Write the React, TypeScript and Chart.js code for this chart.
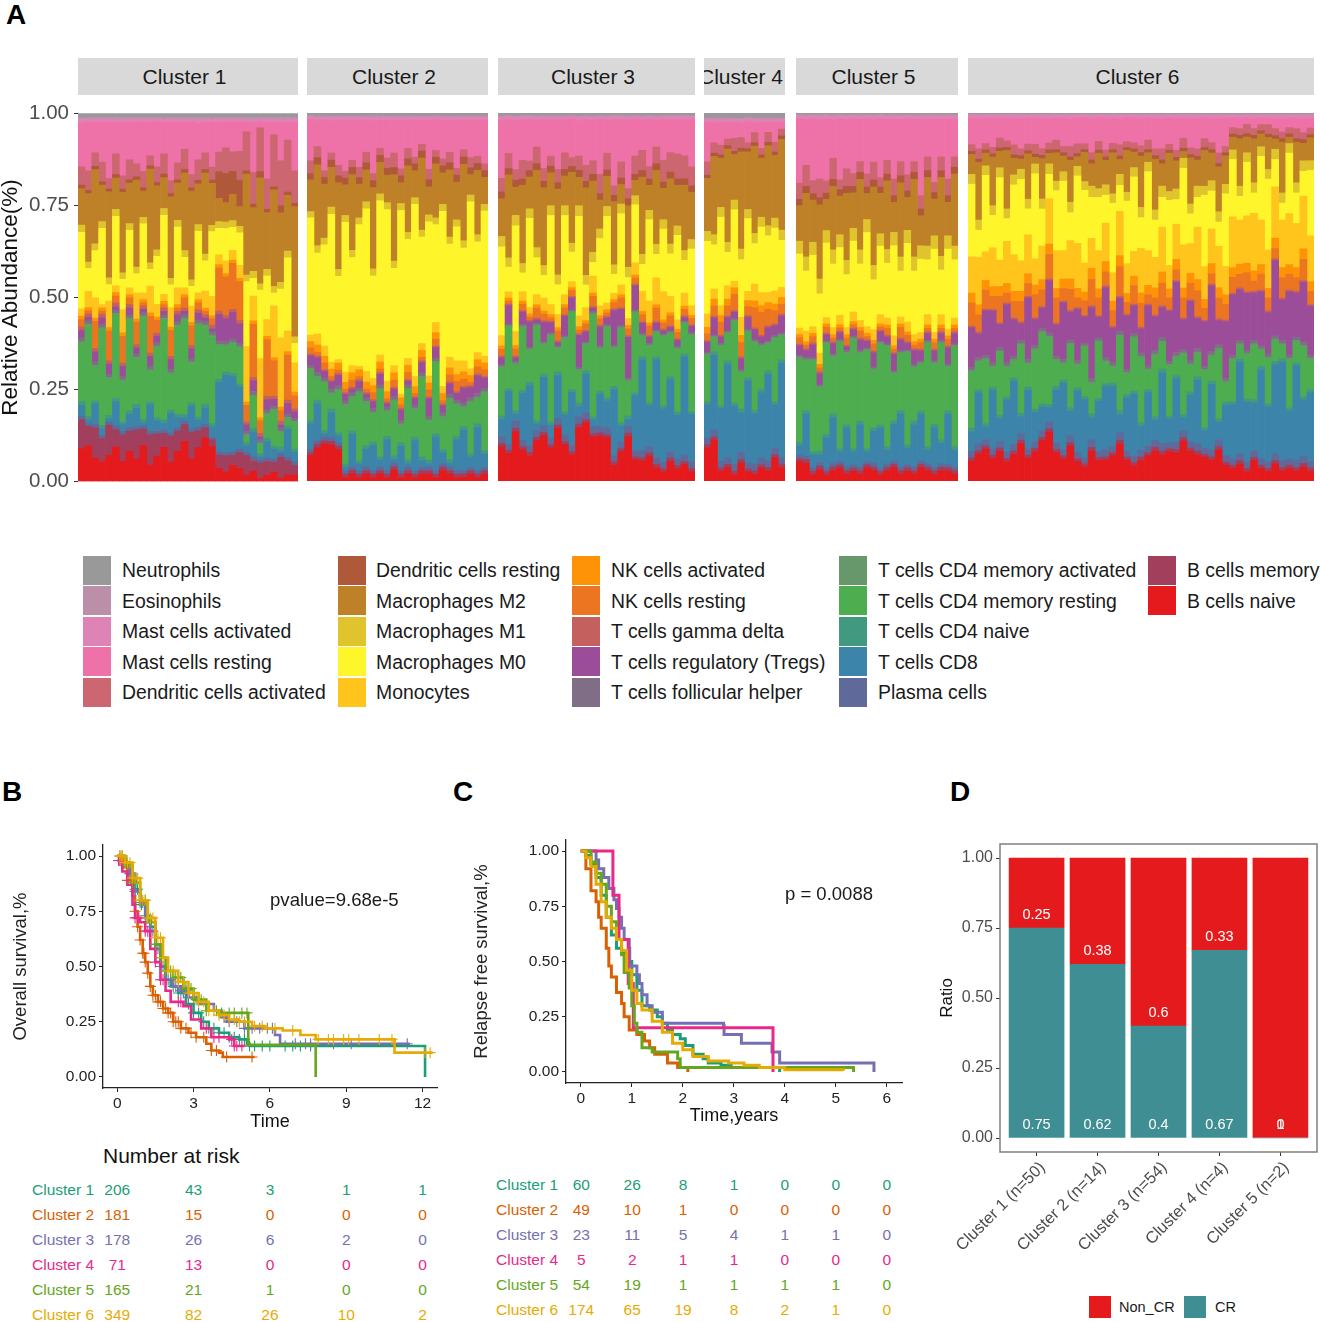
import React, { useEffect, useRef } from "react";
import { Chart, registerables } from "chart.js";

Chart.register(...registerables);
Chart.defaults.font.family = "'Liberation Sans', Arial, sans-serif";

// ---------- Panel A: cell fractions, in percent, one value per displayed column ----------
const clusterNames = ["Cluster 1", "Cluster 2", "Cluster 3", "Cluster 4", "Cluster 5", "Cluster 6"];

const c1Naive = [9,11,7,6,8,10,6,9,7,11,5,8,10,6,9,12,7,10,13,11,4,3,5,4,2,3,1,2,3,1,2,2];
const c1BMem = [8,6,9,7,9,5,8,6,9,5,9,7,4,8,6,5,8,5,3,2,4,5,3,5,6,3,5,4,3,6,4,3];
const c1Cd8 = [3,1,6,2,1,7,2,4,6,1,8,3,2,6,3,1,7,2,5,3,21,24,23,19,2,7,1,5,3,1,8,3];
const c1Green = [16,28,10,29,11,24,12,27,14,31,9,22,29,11,26,28,12,27,23,27,10,8,9,11,2,9,3,7,11,4,2,8];
const c1Treg = [2,1,3,2,3,1,3,2,2,1,3,2,1,3,2,1,3,2,1,1,8,7,8,6,2,3,1,3,2,1,3,2];
const c1Nk = [2,1,8,1,9,2,8,2,7,1,11,4,1,8,1,3,6,2,1,2,13,12,14,12,5,15,4,17,11,3,13,4];
const c1Mono = [2,5,6,1,8,2,7,2,8,2,8,4,2,6,5,2,5,2,5,6,3,4,3,4,17,7,19,5,16,20,6,9];
const c1M0 = [21,7,14,23,5,20,9,17,6,21,5,15,23,7,18,9,6,18,9,20,8,10,7,10,20,5,22,13,4,14,21,6];
const c1M2 = [10,21,22,11,26,9,24,12,27,8,28,20,9,25,11,23,27,12,24,13,7,6,8,6,31,18,34,17,30,20,16,40];
const c1Dc = [5,6,4,6,3,6,4,6,4,5,3,5,6,4,5,6,4,6,5,4,6,8,6,9,12,9,14,9,16,13,15,10];
const c1DcRes = [1,1,1,1,1,1,1,1,1,1,1,1,1,1,1,1,1,1,1,1,8,9,7,8,1,1,2,1,1,2,1,1];
const c1Mast = [12,15,9,12,17,9,16,11,13,15,10,14,9,18,12,8,16,11,9,14,9,8,9,9,3,14,2,17,4,11,5,15];

const c2Naive = [8,9,11,10,9,1,2,1,2,1,2,1,3,1,2,1,2,2,1,3,2,1,1,2,1,2];
const c2Cd8 = [8,10,1,7,2,1,9,2,5,7,2,9,1,7,1,9,2,1,10,3,1,9,11,3,12,4];
const c2Green = [16,6,14,4,12,17,9,20,12,8,19,7,15,5,20,8,23,11,21,9,17,9,5,15,7,17];
const c2Treg = [3,4,2,2,3,2,1,2,1,2,3,1,2,3,1,2,3,5,3,2,3,2,4,3,5,3];
const c2Nk = [2,1,2,1,1,1,2,1,1,2,1,1,2,1,2,1,1,2,2,1,2,3,2,1,2,2];
const c2Mono = [2,3,3,2,1,3,2,1,3,2,2,3,2,1,2,3,2,2,3,2,3,4,3,2,2,2];
const c2M0 = [37,22,30,41,24,44,30,42,46,29,44,50,27,53,34,51,31,44,29,50,32,39,31,49,31,43];
const c2M2 = [10,22,16,11,25,9,21,10,9,23,9,8,24,6,19,8,21,8,16,9,19,11,21,6,18,8];
const c2Dc = [4,3,2,2,3,2,2,3,3,2,2,3,4,2,3,2,2,3,2,2,3,2,2,3,2,2];
const c2Mast = [13,7,15,9,13,15,11,14,9,15,8,11,9,14,8,11,7,14,9,11,9,14,8,11,10,13];

const c3Naive = [10,9,14,10,8,12,14,10,16,11,9,15,18,13,14,13,5,9,13,7,6,8,4,3,6,4,5,3];
const c3Cd8 = [5,17,2,15,19,2,15,4,13,6,18,3,12,2,10,8,21,5,2,18,27,13,29,17,22,14,30,15];
const c3Green = [14,20,13,20,10,28,9,26,7,22,26,9,8,30,13,21,12,29,10,26,6,18,7,22,13,20,9,24];
const c3Treg = [2,6,1,4,8,1,6,3,1,6,4,9,3,1,6,2,11,5,12,8,3,2,2,1,1,2,1,2];
const c3Nk = [2,1,2,2,1,3,2,1,3,2,2,1,2,3,2,1,2,3,2,2,2,3,4,2,3,2,2,2];
const c3Mono = [3,2,4,3,2,3,4,3,4,3,2,3,4,5,3,2,2,3,2,4,6,7,8,9,5,3,4,3];
const c3M0 = [26,8,30,6,28,11,7,27,9,24,10,28,7,4,21,26,6,22,12,19,8,26,7,20,13,27,10,18];
const c3M2 = [11,27,8,25,10,23,24,10,26,9,24,8,27,21,9,9,20,6,18,5,23,8,22,10,20,13,20,15];
const c3Dc = [4,5,3,6,3,5,4,3,4,5,3,4,5,4,6,5,3,5,3,6,6,4,5,7,6,8,7,6];
const c3Mast = [17,11,14,13,13,8,15,11,15,10,13,10,14,12,17,10,21,13,20,12,9,15,8,13,10,11,11,15];

const c4Naive = [10,12,3,4,2,5,3,2,4,3,7,4];
const c4Cd8 = [10,22,16,28,18,11,27,15,20,26,13,28];
const c4Green = [14,4,18,8,25,10,15,20,13,8,19,7];
const c4Treg = [3,5,2,4,2,3,4,3,2,4,3,5];
const c4Nk = [2,3,4,3,5,4,3,6,7,5,4,3];
const c4Mono = [4,3,3,4,2,5,3,5,4,3,4,3];
const c4M0 = [22,13,27,10,22,16,24,12,20,17,19,14];
const c4M2 = [16,23,15,28,14,27,19,26,18,24,19,27];
const c4Dc = [4,3,3,2,4,3,2,3,2,3,3,2];
const c4Mast = [12,6,7,5,5,4,7,3,8,3,6,2];

const c5Naive = [6,5,2,3,2,3,4,2,3,2,4,3,2,3,4,2,3,2,4,3,2,3,3,2];
const c5Cd8 = [3,12,4,2,10,13,3,11,4,12,3,9,13,4,11,15,5,12,14,4,12,6,15,5];
const c5Green = [26,14,28,17,29,16,33,20,34,19,30,16,26,29,14,16,28,15,14,30,18,28,13,29];
const c5Treg = [3,2,4,3,2,3,2,1,2,3,2,4,3,2,5,3,2,4,3,2,3,2,5,3];
const c5Nk = [2,1,2,1,2,1,1,2,1,2,1,2,1,2,1,3,2,1,2,1,2,1,2,1];
const c5Mono = [2,3,2,3,2,2,3,2,3,2,2,3,3,2,3,2,3,2,2,3,2,3,2,2];
const c5M0 = [23,17,22,16,24,18,21,15,22,16,29,14,22,16,27,13,24,18,22,16,25,13,24,17];
const c5M2 = [11,18,13,20,10,18,12,19,11,20,8,22,13,20,9,21,10,22,9,20,11,23,10,21];
const c5Dc = [5,6,4,5,4,6,3,5,4,3,4,5,3,4,5,4,5,3,4,4,3,4,5,3];
const c5Mast = [20,13,19,16,20,11,19,14,17,12,17,12,19,12,18,12,17,12,23,11,19,11,18,11];

const c6Naive = [6,8,10,7,9,6,8,11,7,9,12,14,9,7,10,6,5,8,7,6,8,10,7,5,6,8,9,7,10,8,12,9,7,8,6,9,5,4,5,3,6,4,3,5,3,4,3,4,3];
const c6Cd8 = [6,15,4,18,7,16,19,5,18,9,7,4,17,21,7,19,20,6,17,18,19,5,18,20,7,17,6,19,8,18,4,14,17,6,19,5,16,17,27,19,14,28,17,26,29,15,28,16,21];
const c6Green = [17,8,20,6,19,9,5,20,7,18,21,19,8,5,18,7,17,8,19,6,5,20,7,17,19,6,18,7,17,5,18,8,6,19,7,20,6,13,4,14,16,5,14,6,4,15,6,14,9];
const c6Treg = [12,7,14,16,7,18,11,5,19,8,6,15,10,18,8,16,9,19,7,20,11,9,18,9,7,19,10,8,17,20,9,18,8,15,19,7,18,19,15,18,14,17,13,22,12,20,13,17,15];
const c6Nk = [7,5,6,4,8,3,5,6,4,7,5,7,8,4,6,3,5,7,6,4,5,8,4,6,7,3,5,6,4,3,6,5,7,4,3,6,5,5,4,6,3,5,4,3,6,5,4,6,4];
const c6Mono = [11,14,9,12,8,13,11,9,12,8,10,13,12,9,11,14,10,8,13,11,9,12,10,8,13,11,9,12,8,10,13,9,14,11,10,12,9,16,13,15,17,14,12,15,14,16,13,15,14];
const c6M0 = [22,8,24,10,25,7,21,24,8,26,11,7,19,22,8,21,25,11,18,8,22,7,21,24,9,25,11,8,22,7,23,9,8,24,11,7,23,18,7,17,6,20,22,8,5,19,9,7,20];
const c6M2 = [6,17,4,15,5,18,5,3,14,2,12,3,9,5,12,3,10,6,12,7,13,4,14,5,15,3,15,6,13,8,2,14,7,12,8,13,9,4,14,5,13,4,10,3,15,2,12,5,7];
const c6Dc = [2,3,2,2,3,2,3,2,2,3,2,2,3,2,3,3,2,2,3,2,2,3,2,2,2,3,2,3,2,2,3,2,2,3,2,3,2,2,2,3,2,2,3,2,2,2,3,2,2];
const c6Mast = [8,9,8,9,6,7,8,9,8,8,9,7,7,9,8,8,9,9,8,9,8,7,8,8,8,7,9,8,9,9,6,9,8,7,7,10,9,3,3,2,3,2,2,3,4,3,3,4,3];

// per-cluster mean of the thin bands (Cluster 1 ... Cluster 6)
const neutMean = [1.2, 0.8, 0.8, 1.5, 0.5, 0.3];
const eosMean = [0.5, 0.3, 0.3, 0.3, 0.3, 0.3];
const mastActMean = [1, 1, 1, 1, 1, 1];
const dcResMean = [1, 2, 2, 1, 2, 1];
const m1Mean = [2, 2, 3, 3, 4, 3];
const nkActMean = [1, 2, 1, 2, 1, 3];
const gammaMean = [1, 0.5, 0.5, 0.5, 0.5, 0.5];
const follicMean = [1, 1, 0.5, 0.5, 0.5, 1];
const cd4ActMean = [0.5, 0.5, 0.5, 0.5, 0.5, 0.5];
const cd4NaiveMean = [1, 1, 1, 1, 1, 1];
const plasmaMean = [1, 1, 2, 2, 1, 2];
const bMemMean = [6, 1, 1, 1, 1, 1];

const legendNames = [
  "Neutrophils", "Eosinophils", "Mast cells activated", "Mast cells resting", "Dendritic cells activated",
  "Dendritic cells resting", "Macrophages M2", "Macrophages M1", "Macrophages M0", "Monocytes",
  "NK cells activated", "NK cells resting", "T cells gamma delta", "T cells regulatory (Tregs)", "T cells follicular helper",
  "T cells CD4 memory activated", "T cells CD4 memory resting", "T cells CD4 naive", "T cells CD8", "Plasma cells",
  "B cells memory", "B cells naive",
];
const legendColors = [
  "#999999", "#BC8FA9", "#DE83B5", "#EE72A8", "#CC6670",
  "#B0583A", "#BE8128", "#E0C42D", "#FFF52B", "#FFC51C",
  "#FF9308", "#EC7521", "#C4615F", "#9C4D9A", "#7F6E86",
  "#67986B", "#4DAD4F", "#419A7F", "#3D84AA", "#5F6A9A",
  "#A13F5D", "#E41A1C",
];

const bandsPerCluster: (number[] | undefined)[][] = [
  // same order as legendNames; undefined = use the per-cluster mean
  [undefined, undefined, undefined, c1Mast, c1Dc, c1DcRes, c1M2, undefined, c1M0, c1Mono, undefined, c1Nk, undefined, c1Treg, undefined, undefined, c1Green, undefined, c1Cd8, undefined, c1BMem, c1Naive],
  [undefined, undefined, undefined, c2Mast, c2Dc, undefined, c2M2, undefined, c2M0, c2Mono, undefined, c2Nk, undefined, c2Treg, undefined, undefined, c2Green, undefined, c2Cd8, undefined, undefined, c2Naive],
  [undefined, undefined, undefined, c3Mast, c3Dc, undefined, c3M2, undefined, c3M0, c3Mono, undefined, c3Nk, undefined, c3Treg, undefined, undefined, c3Green, undefined, c3Cd8, undefined, undefined, c3Naive],
  [undefined, undefined, undefined, c4Mast, c4Dc, undefined, c4M2, undefined, c4M0, c4Mono, undefined, c4Nk, undefined, c4Treg, undefined, undefined, c4Green, undefined, c4Cd8, undefined, undefined, c4Naive],
  [undefined, undefined, undefined, c5Mast, c5Dc, undefined, c5M2, undefined, c5M0, c5Mono, undefined, c5Nk, undefined, c5Treg, undefined, undefined, c5Green, undefined, c5Cd8, undefined, undefined, c5Naive],
  [undefined, undefined, undefined, c6Mast, c6Dc, undefined, c6M2, undefined, c6M0, c6Mono, undefined, c6Nk, undefined, c6Treg, undefined, undefined, c6Green, undefined, c6Cd8, undefined, undefined, c6Naive],
];
const bandMeans = [
  neutMean, eosMean, mastActMean, undefined, undefined,
  dcResMean, undefined, m1Mean, undefined, undefined,
  nkActMean, undefined, gammaMean, undefined, follicMean,
  cd4ActMean, undefined, cd4NaiveMean, undefined, plasmaMean,
  bMemMean, undefined,
];

// ---------- Panels B, C: survival curves [time, survival] ----------
const kmColors = ["#1b9e77", "#d95f02", "#7570b3", "#e7298a", "#66a61e", "#e6ab02"];

const osCluster1 = [[0,1],[.3,.97],[.5,.92],[.7,.85],[.9,.78],[1.1,.73],[1.3,.68],[1.5,.6],[1.7,.5],[1.9,.44],[2.1,.41],[2.4,.38],[2.7,.33],[3,.29],[3.3,.25],[3.6,.22],[4,.2],[4.4,.18],[4.8,.17],[5.1,.15],[5.2,.14],[12.1,.14],[12.1,0]];
const osCluster2 = [[0,1],[.2,.95],[.4,.89],[.6,.82],[.7,.75],[.8,.68],[.9,.62],[1,.56],[1.1,.52],[1.2,.47],[1.3,.41],[1.4,.37],[1.6,.34],[1.8,.31],[2,.29],[2.2,.25],[2.5,.22],[2.8,.2],[3.1,.18],[3.5,.15],[3.7,.12],[4,.11],[4.15,.09],[5.4,.09]];
const osCluster3 = [[0,1],[.3,.97],[.5,.92],[.7,.84],[.9,.79],[1.1,.72],[1.3,.66],[1.5,.58],[1.7,.5],[1.9,.44],[2.2,.41],[2.5,.39],[2.8,.36],[3.2,.33],[3.8,.3],[4.1,.27],[4.3,.25],[5,.22],[5.8,.22],[6.2,.19],[6.4,.15],[11.5,.15]];
const osCluster4 = [[0,.98],[.2,.93],[.4,.87],[.6,.78],[.7,.72],[.9,.7],[1.1,.66],[1.3,.58],[1.5,.52],[1.7,.44],[1.9,.39],[2.1,.34],[2.6,.32],[2.9,.26],[3.3,.22],[3.7,.18],[4.4,.17],[4.6,.14],[5,.14]];
const osCluster5 = [[0,1],[.3,.96],[.6,.88],[.9,.8],[1.2,.7],[1.5,.6],[1.7,.54],[1.9,.48],[2.2,.45],[2.6,.4],[3,.35],[3.5,.3],[4,.29],[5.15,.29],[5.15,.145],[7.8,.145],[7.8,0]];
const osCluster6 = [[0,1],[.3,.97],[.6,.9],[.9,.8],[1.2,.72],[1.5,.63],[1.8,.54],[2,.48],[2.4,.43],[2.8,.38],[3.2,.34],[3.6,.3],[4,.28],[4.4,.26],[4.8,.25],[5.3,.23],[5.8,.22],[6.5,.21],[7.2,.19],[7.8,.17],[10.9,.17],[10.9,.11],[12.4,.11]];
const osCurves = [osCluster1, osCluster2, osCluster3, osCluster4, osCluster5, osCluster6];

const censorCluster1 = [.35,.5,.7,.8,.95,1.1,1.3,1.5,1.7,1.9,2.0,2.2,2.4,2.6,2.8,3.0,3.2,3.4,3.6,3.8,4.0,4.2,4.4,4.6,4.8,5.0,5.2,5.4,5.7,6,6.6,6.9,7.2,7.6];
const censorCluster2 = [.4,.55,.7,.8,.9,1,1.05,1.1,1.2,1.3,1.4,1.5,1.6,1.7,1.8,1.9,2.0,2.1,2.2,2.3,2.4,2.5,2.7,2.9,3.1,3.4,3.7,3.9,4.3,5.3];
const censorCluster3 = [.1,.3,.5,.7,.9,1.0,1.2,1.4,1.6,1.8,2.1,2.3,2.4,2.5,2.6,2.7,2.8,3.0,4.2,4.4,4.7,5.0,5.3,5.6,5.9,6.1,7.0,7.4,7.6,8.5,9.2,11.4];
const censorCluster4 = [.05,.1,.15,.7,.8,.85,1.1,1.2,1.5,1.7,1.8,2.4,2.5,3.5,3.8,4.0,4.5,4.6,4.7,4.9];
const censorCluster5 = [.2,.4,.6,.7,.9,1.1,1.3,1.5,1.7,1.9,2.1,2.3,2.5,2.7,2.9,3.1,3.3,3.5,3.9,4.1,4.4,4.6,4.9,5.1];
const censorCluster6 = [.1,.15,.2,.3,.4,.5,.6,.7,.8,.9,1.0,1.1,1.2,1.3,1.4,1.5,1.6,1.7,1.8,2,2.2,2.4,2.6,2.8,3,3.2,3.4,3.6,3.8,4,4.2,4.4,4.6,4.8,5,5.4,5.7,6.2,6.9,7.9,8.3,8.5,8.9,9.1,9.5,10.3,10.8,12.1,12.3];
const osCensors = [censorCluster1, censorCluster2, censorCluster3, censorCluster4, censorCluster5, censorCluster6];

const rfsCluster1 = [[0,1],[.1,.98],[.2,.94],[.3,.88],[.4,.8],[.5,.7],[.6,.62],[.7,.56],[.8,.54],[.9,.5],[1,.44],[1.1,.37],[1.2,.3],[1.35,.28],[1.5,.25],[1.6,.22],[1.7,.19],[1.8,.17],[1.95,.15],[2.05,.12],[2.2,.08],[2.4,.06],[2.5,.04],[2.75,.03],[2.95,.02],[3.9,.02],[3.9,0]];
const rfsCluster2 = [[0,1],[.1,.92],[.2,.82],[.3,.77],[.35,.7],[.4,.65],[.5,.56],[.55,.48],[.6,.43],[.7,.36],[.8,.31],[.85,.25],[.95,.19],[1.1,.17],[1.25,.14],[1.35,.11],[1.45,.08],[1.7,.04],[1.9,.02],[2.1,0]];
const rfsCluster3 = [[0,1],[.3,.96],[.35,.92],[.45,.88],[.55,.83],[.65,.78],[.7,.74],[.75,.7],[.8,.65],[.85,.6],[.95,.56],[.96,.48],[1.1,.44],[1.15,.4],[1.2,.35],[1.3,.3],[1.4,.27],[1.6,.22],[2.8,.21],[2.81,.17],[3.15,.13],[3.75,.09],[3.9,.04],[5.75,.04],[5.75,0]];
const rfsCluster4 = [[0,1],[.63,.8],[.75,.6],[.93,.4],[1.03,.2],[3.77,0]];
const rfsCluster5 = [[0,1],[.2,.95],[.3,.9],[.4,.85],[.5,.75],[.6,.68],[.7,.6],[.8,.53],[.85,.45],[.95,.38],[1,.3],[1.05,.22],[1.1,.18],[1.2,.11],[1.4,.09],[1.9,.06],[1.95,.02],[5.35,.015],[5.35,0]];
const rfsCluster6 = [[0,1],[.1,.97],[.2,.93],[.3,.85],[.4,.77],[.5,.7],[.6,.65],[.7,.6],[.8,.55],[.9,.46],[1,.37],[1.1,.31],[1.2,.28],[1.4,.23],[1.6,.18],[1.8,.13],[2,.1],[2.2,.07],[2.5,.05],[2.9,.04],[3.2,.03],[3.5,.02],[4,.01],[5.15,.005]];
const rfsCurves = [rfsCluster1, rfsCluster2, rfsCluster3, rfsCluster4, rfsCluster5, rfsCluster6];

const osRiskTimes = [0, 3, 6, 9, 12];
const osRisk = [[206,43,3,1,1],[181,15,0,0,0],[178,26,6,2,0],[71,13,0,0,0],[165,21,1,0,0],[349,82,26,10,2]];
const rfsRiskTimes = [0, 1, 2, 3, 4, 5, 6];
const rfsRisk = [[60,26,8,1,0,0,0],[49,10,1,0,0,0,0],[23,11,5,4,1,1,0],[5,2,1,1,0,0,0],[54,19,1,1,1,1,0],[174,65,19,8,2,1,0]];

// ---------- Panel D ----------
const responseCategories = ["Cluster 1 (n=50)", "Cluster 2 (n=14)", "Cluster 3 (n=54)", "Cluster 4 (n=4)", "Cluster 5 (n=2)"];
const crRatio = [0.75, 0.62, 0.4, 0.67, 0];
const nonCrRatio = [0.25, 0.38, 0.6, 0.33, 1];

// ---------- layout ----------
const FONT = "'Liberation Sans', Arial, sans-serif";
const facetBoxes = [
  [78, 298], [307, 488], [498, 695], [704, 785], [796, 958], [968, 1314],
];
const legendX = [[83, 122], [338, 376], [572, 611], [839, 878], [1148, 1187]];
const legendY = [570, 600.5, 631, 661.5, 692];

function stepValue(curve: number[][], t: number) {
  let v = curve[0][1];
  for (const p of curve) if (p[0] <= t) v = p[1];
  return v;
}

function facetData(f: number) {
  const n = c(f).length;
  const rows = legendNames.map((_, s) => {
    const arr = bandsPerCluster[f][s];
    return Array.from({ length: n }, (_, i) => (arr ? arr[i] ?? 0 : (bandMeans[s] as number[])[f]));
  });
  const totals = Array.from({ length: n }, (_, i) => rows.reduce((a, r) => a + r[i], 0));
  const labels = Array.from({ length: n }, (_, i) => String(i + 1));
  // stack from the bottom: last legend entry first
  const datasets = legendNames
    .map((name, s) => ({
      label: name,
      data: rows[s].map((v, i) => v / totals[i]),
      backgroundColor: legendColors[s],
      borderWidth: 0,
      barPercentage: 1,
      categoryPercentage: 1,
    }))
    .reverse();
  return { labels, datasets };
}
function c(f: number) {
  return bandsPerCluster[f][21] as number[];
}

function facetConfig(f: number): any {
  const first = f === 0;
  return {
    type: "bar",
    data: facetData(f),
    options: {
      animation: false,
      responsive: false,
      layout: { padding: first ? { top: 9, bottom: 10 } : 0 },
      plugins: { legend: { display: false }, tooltip: { enabled: false } },
      scales: {
        x: { display: false, stacked: true },
        y: {
          display: first,
          stacked: true,
          min: 0,
          max: 1,
          afterFit: first ? (s: any) => { s.width = 78; } : undefined,
          border: { display: false },
          grid: { display: true, drawOnChartArea: false, drawTicks: true, tickLength: 4, tickColor: "#333333" },
          ticks: {
            stepSize: 0.25,
            padding: 5,
            color: "#4d4d4d",
            font: { size: 20.5 },
            callback: (v: number) => v.toFixed(2),
          },
          title: {
            display: first,
            text: "Relative Abundance(%)",
            color: "#111111",
            font: { size: 22.5, lineHeight: 1 },
            padding: 0,
          },
        },
      },
    },
  };
}

function kmConfig(o: any): any {
  const datasets: any[] = [];
  o.curves.forEach((curve: number[][], i: number) => {
    datasets.push({
      type: "line",
      data: curve.map((p) => ({ x: p[0], y: p[1] })),
      borderColor: kmColors[i],
      borderWidth: o.lineWidth,
      stepped: true,
      pointRadius: 0,
      fill: false,
      order: 20 - i,
    });
    if (o.censors) {
      datasets.push({
        type: "scatter",
        data: o.censors[i].map((t: number) => ({ x: t, y: stepValue(curve, t) })),
        pointStyle: "cross",
        pointRadius: 5.5,
        pointBorderWidth: 1.1,
        borderColor: kmColors[i],
        backgroundColor: kmColors[i],
        showLine: false,
        order: 20 - i,
      });
    }
  });
  const tickFont = { size: 15.5 };
  return {
    type: "line",
    data: { datasets },
    options: {
      animation: false,
      responsive: false,
      layout: { padding: { top: o.padTop, right: o.padRight } },
      plugins: { legend: { display: false }, tooltip: { enabled: false } },
      scales: {
        x: {
          type: "linear",
          min: o.xMin,
          max: o.xMax,
          afterFit: (s: any) => { s.height = o.axisH; },
          border: { display: true, color: "#222222", width: 1.3 },
          grid: { display: true, drawOnChartArea: false, tickLength: 4, tickColor: "#222222" },
          ticks: { stepSize: o.xStep, includeBounds: false, color: "#222222", font: tickFont, padding: 2, maxRotation: 0 },
          title: { display: true, text: o.xTitle, color: "#111111", font: { size: 18 }, padding: { top: 0, bottom: o.xTitlePad } },
        },
        y: {
          min: -0.05,
          max: 1.05,
          afterFit: (s: any) => { s.width = o.axisW; },
          border: { display: true, color: "#222222", width: 1.3 },
          grid: { display: true, drawOnChartArea: false, tickLength: 4, tickColor: "#222222" },
          ticks: {
            stepSize: 0.25,
            includeBounds: false,
            color: "#222222",
            font: tickFont,
            padding: 3,
            callback: (v: number) => v.toFixed(2),
          },
          title: { display: true, text: o.yTitle, color: "#222222", font: { size: o.yTitleSize }, padding: { top: o.yTitlePad, bottom: 0 } },
        },
      },
    },
  };
}

const ratioLabels = {
  id: "ratioLabels",
  afterDatasetsDraw(chart: any) {
    const { ctx, scales } = chart;
    ctx.save();
    ctx.fillStyle = "#ffffff";
    ctx.font = `14.5px ${FONT}`;
    ctx.textAlign = "center";
    ctx.textBaseline = "middle";
    crRatio.forEach((cr, i) => {
      const x = scales.x.getPixelForValue(i + 1);
      ctx.fillText(String(cr), x, scales.y.getPixelForValue(0.047));
      ctx.fillText(String(nonCrRatio[i]), x, scales.y.getPixelForValue(cr + 0.047));
    });
    ctx.restore();
  },
  afterDraw(chart: any) {
    const { ctx, chartArea: a } = chart;
    ctx.save();
    ctx.strokeStyle = "#7f7f7f";
    ctx.lineWidth = 1.5;
    ctx.strokeRect(a.left, a.top, a.right - a.left, a.bottom - a.top);
    ctx.restore();
  },
};

function ratioConfig(): any {
  const series = (values: number[], label: string, color: string) => ({
    label,
    data: values.map((v, i) => ({ x: i + 1, y: v })),
    backgroundColor: color,
    borderWidth: 0,
    barThickness: 55,
  });
  return {
    type: "bar",
    data: { datasets: [series(crRatio, "CR", "#3F8E93"), series(nonCrRatio, "Non_CR", "#E41A1C")] },
    plugins: [ratioLabels],
    options: {
      animation: false,
      responsive: false,
      layout: { padding: { top: 14, right: 3 } },
      plugins: { legend: { display: false }, tooltip: { enabled: false } },
      scales: {
        x: {
          type: "linear",
          stacked: true,
          offset: false,
          min: 0.4,
          max: 5.6,
          afterFit: (s: any) => { s.height = 128; },
          border: { display: false },
          grid: { display: true, offset: false, drawOnChartArea: false, tickLength: 4, tickColor: "#333333" },
          ticks: {
            stepSize: 1,
            includeBounds: false,
            autoSkip: false,
            minRotation: 45,
            maxRotation: 45,
            labelOffset: 6,
            color: "#4d4d4d",
            font: { size: 16.4 },
            padding: 2,
            callback: (v: number) => responseCategories[v - 1],
          },
        },
        y: {
          stacked: true,
          min: -0.05,
          max: 1.05,
          afterFit: (s: any) => { s.width = 70; },
          border: { display: false },
          grid: { display: true, drawOnChartArea: false, tickLength: 4, tickColor: "#333333" },
          ticks: {
            stepSize: 0.25,
            includeBounds: false,
            color: "#4d4d4d",
            font: { size: 16 },
            padding: 3,
            callback: (v: number) => v.toFixed(2),
          },
          title: { display: true, text: "Ratio", color: "#111111", font: { size: 17 }, padding: { top: 7, bottom: 0 } },
        },
      },
    },
  };
}

function ChartBox({ left, top, width, height, make }: any) {
  const ref = useRef<HTMLCanvasElement>(null);
  useEffect(() => {
    const chart = new Chart(ref.current as HTMLCanvasElement, make());
    return () => chart.destroy();
  }, []);
  return (
    <canvas
      ref={ref}
      width={width}
      height={height}
      style={{ position: "absolute", left, top, width, height, display: "block" }}
    />
  );
}

function Txt({ x, y, size, color = "#1a1a1a", align = "left", bold = false, children }: any) {
  const tx = align === "center" ? "-50%" : align === "right" ? "-100%" : "0";
  return (
    <div
      style={{
        position: "absolute",
        left: x,
        top: y,
        transform: `translate(${tx}, -50%)`,
        fontFamily: FONT,
        fontSize: size,
        fontWeight: bold ? 700 : 400,
        color,
        lineHeight: 1,
        whiteSpace: "nowrap",
      }}
    >
      {children}
    </div>
  );
}

function RiskTable({ names, rows, xs, labelX, ys }: any) {
  return (
    <>
      {names.map((name: string, r: number) => (
        <React.Fragment key={name}>
          <Txt x={labelX} y={ys[r]} size={15.5} color={kmColors[r]}>{name}</Txt>
          {rows[r].map((v: number, k: number) => (
            <Txt key={k} x={xs[k]} y={ys[r]} size={15.5} color={kmColors[r]} align="center">{v}</Txt>
          ))}
        </React.Fragment>
      ))}
    </>
  );
}

export default function App() {
  const osScaleX = (t: number) => 117.3 + t * 25.44;
  const rfsScaleX = (t: number) => 581.3 + t * 50.9;
  return (
    <div style={{ position: "absolute", left: 0, top: 0, width: 1320, height: 1322, background: "#fff", overflow: "hidden" }}>
      <Txt x={6} y={15} size={28} bold color="#000">A</Txt>
      <Txt x={2} y={792} size={28} bold color="#000">B</Txt>
      <Txt x={453} y={792} size={28} bold color="#000">C</Txt>
      <Txt x={950} y={792} size={28} bold color="#000">D</Txt>

      {facetBoxes.map(([l, r], f) => (
        <div
          key={f}
          style={{
            position: "absolute", left: l, top: 58, width: r - l, height: 37, background: "#d9d9d9",
            boxSizing: "border-box", paddingRight: 7,
            display: "flex", alignItems: "center", justifyContent: "center", overflow: "hidden",
            fontFamily: FONT, fontSize: 21, color: "#1a1a1a", whiteSpace: "nowrap",
          }}
        >
          <span style={{ flex: "none" }}>{clusterNames[f]}</span>
        </div>
      ))}
      {facetBoxes.map(([l, r], f) =>
        f === 0 ? (
          <ChartBox key={f} left={0} top={96} width={r} height={403} make={() => facetConfig(f)} />
        ) : (
          <ChartBox key={f} left={l} top={113} width={r - l} height={368} make={() => facetConfig(f)} />
        )
      )}

      {legendNames.map((name, i) => {
        const col = Math.floor(i / 5);
        const row = i % 5;
        return (
          <React.Fragment key={name}>
            <div style={{ position: "absolute", left: legendX[col][0], top: legendY[row] - 14.5, width: 28, height: 29, background: legendColors[i] }} />
            <Txt x={legendX[col][1]} y={legendY[row] + 1} size={19.4}>{name}</Txt>
          </React.Fragment>
        );
      })}

      <ChartBox
        left={0} top={830} width={450} height={310}
        make={() => kmConfig({
          curves: osCurves, censors: osCensors, lineWidth: 2.6, padTop: 15, padRight: 13, axisH: 52, axisW: 103,
          xMin: -0.56, xMax: 12.57, xStep: 3, xTitle: "Time", xTitlePad: 7, yTitle: "Overall survival,%", yTitleSize: 18.5, yTitlePad: 10,
        })}
      />
      <Txt x={270} y={900} size={18.6}>pvalue=9.68e-5</Txt>
      <Txt x={103} y={1155} size={21} color="#111">Number at risk</Txt>
      <RiskTable
        names={clusterNames} rows={osRisk} xs={osRiskTimes.map(osScaleX)} labelX={32}
        ys={[1190, 1215, 1240, 1265, 1290, 1315]}
      />

      <ChartBox
        left={460} top={825} width={450} height={305}
        make={() => kmConfig({
          curves: rfsCurves, lineWidth: 3, padTop: 15, padRight: 8, axisH: 47, axisW: 106,
          xMin: -0.29, xMax: 6.3, xStep: 1, xTitle: "Time,years", xTitlePad: 3, yTitle: "Relapse free survival,%", yTitleSize: 18.5, yTitlePad: 11,
        })}
      />
      <Txt x={785} y={894} size={18.5}>p = 0.0088</Txt>
      <RiskTable
        names={clusterNames} rows={rfsRisk} xs={rfsRiskTimes.map(rfsScaleX)} labelX={496}
        ys={[1185, 1210, 1235, 1260, 1285, 1310]}
      />

      <ChartBox left={930} top={830} width={390} height={450} make={ratioConfig} />
      <div style={{ position: "absolute", left: 1089, top: 1296, width: 22, height: 22, background: "#E41A1C" }} />
      <Txt x={1119} y={1307} size={14.5}>Non_CR</Txt>
      <div style={{ position: "absolute", left: 1184, top: 1296, width: 22, height: 22, background: "#3F8E93" }} />
      <Txt x={1215} y={1307} size={14.5}>CR</Txt>
    </div>
  );
}
